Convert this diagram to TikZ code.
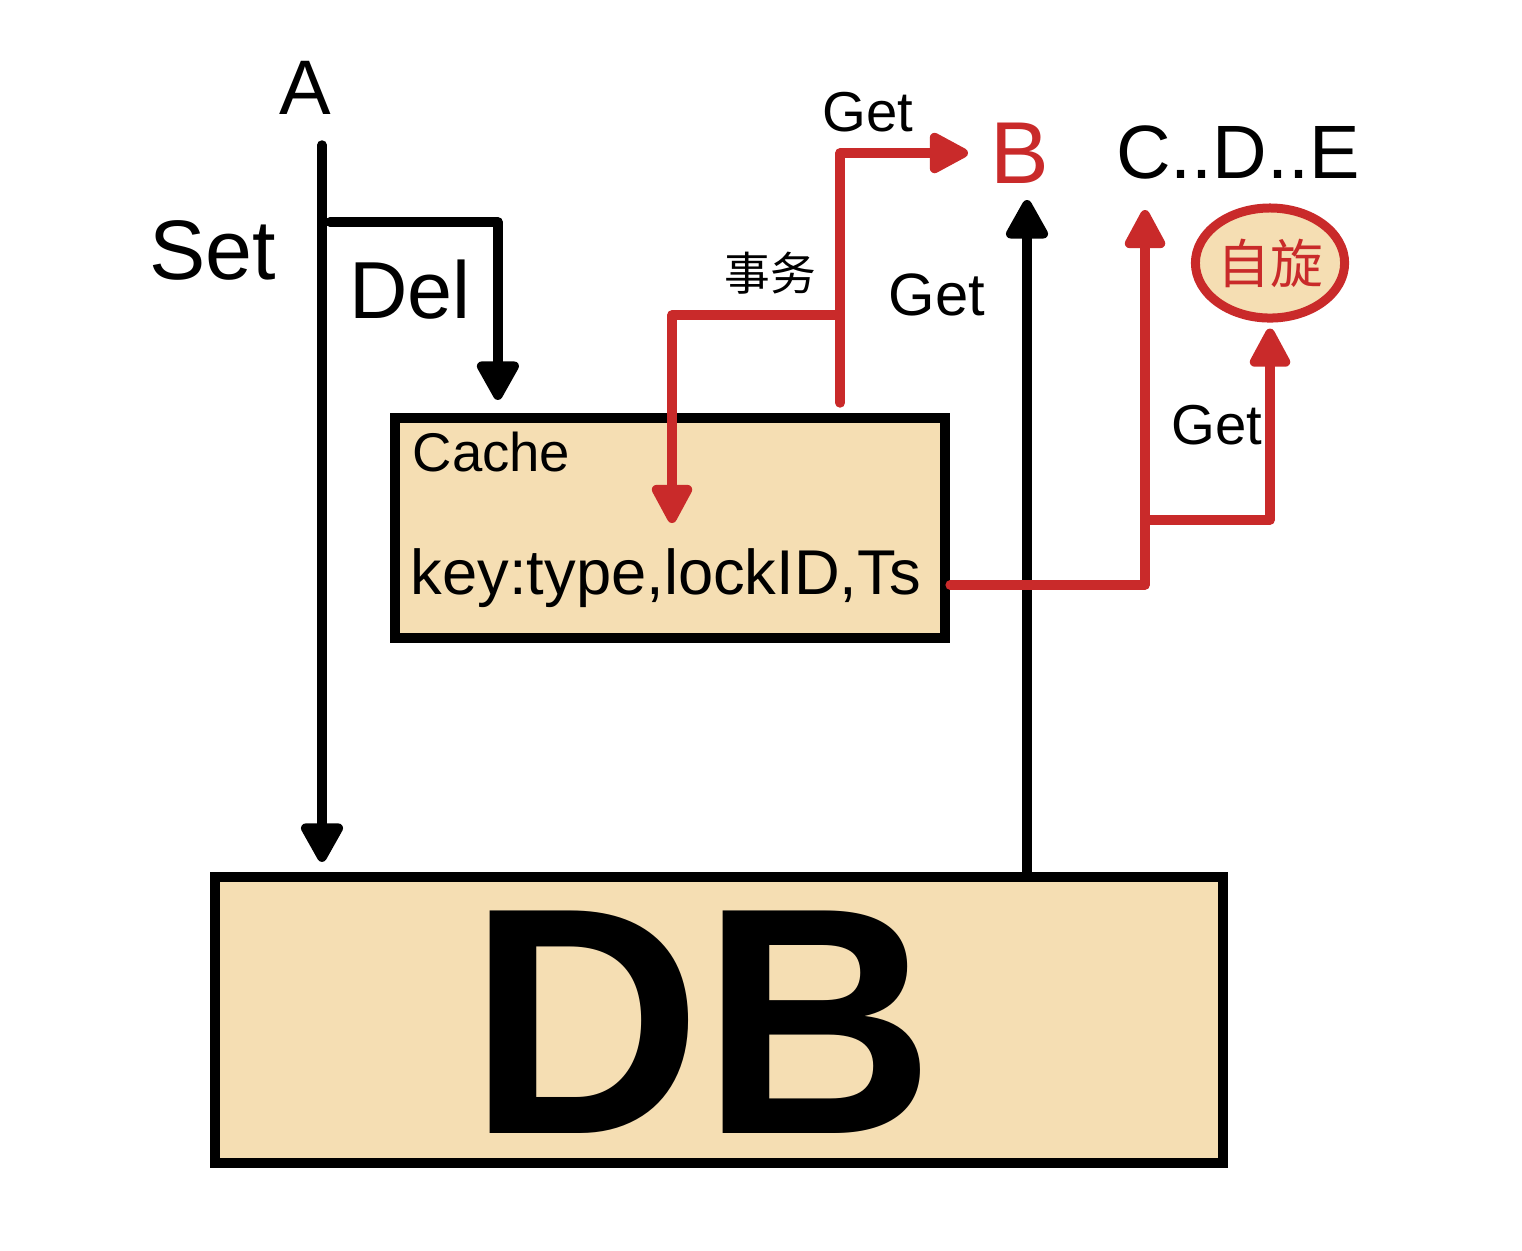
\documentclass[tikz,border=0pt]{standalone}
\usepackage{fontspec}
\setmainfont{Liberation Sans}
\newfontfamily\cjk{Noto Sans CJK SC}
\usetikzlibrary{arrows.meta,positioning,shapes.geometric}
\definecolor{wheat}{HTML}{F5DEB3}
\definecolor{hred}{HTML}{C92A2A}
\begin{document}
\begin{tikzpicture}[x=0.01cm, y=-0.01cm,
    main/.style = {draw=none, inner sep=0pt},
    box/.style = {draw=black, fill=wheat, line width=0.1cm, inner sep=0pt},
    blackline/.style = {draw=black, line width=0.095cm, line cap=round, line join=round,
        -{Triangle[round, width=0.46cm, length=0.44cm]}},
    redline/.style = {draw=hred, line width=0.095cm, line cap=round, line join=round,
        -{Triangle[round, width=0.44cm, length=0.44cm]}}]
    \useasboundingbox (0,0) rectangle (1522,1250);

    \node[box, minimum width=10.08cm, minimum height=2.86cm] (DB) at (719,1020) {};
    \node[main] (dbtext) at (702,1022) {\fontsize{92}{92}\selectfont\bfseries DB};
    \node[box, minimum width=5.5cm, minimum height=2.2cm] (cache) at (670,528) {};
    \node[main, anchor=west] (cachetext) at (412,452) {\fontsize{15.5}{15.5}\selectfont Cache};
    \node[main, anchor=west] (keytext) at (410,578) {\fontsize{18}{18}\selectfont key:type,lockID,Ts};

    \node[main] (A) at (305,88) {\fontsize{22}{22}\selectfont A};
    \node[main] (set) at (213,250) {\fontsize{24}{24}\selectfont Set};
    \node[main] (del) at (410,290) {\fontsize{23}{23}\selectfont Del};
    \node[main, text=hred] (B) at (1020,153) {\fontsize{25}{25}\selectfont B};
    \node[main] (cde) at (1238,152) {\fontsize{21.5}{21.5}\selectfont C..D..E};
    \node[ellipse, draw=hred, fill=wheat, line width=0.09cm, minimum width=1.32cm,
        minimum height=1.1cm, inner sep=0pt, text=hred] (spin) at (1270,263)
        {\cjk\fontsize{15}{15}\selectfont 自旋};

    \node[main] (get1) at (868,112) {\fontsize{16}{16}\selectfont Get};
    \node[main] (get2) at (937,295) {\fontsize{17}{17}\selectfont Get};
    \node[main] (get3) at (1217,425) {\fontsize{16}{16}\selectfont Get};
    \node[main] (tx) at (770,273) {\cjk\fontsize{13}{13}\selectfont 事务};

    \coordinate (setTop) at (322,145);
    \coordinate (delStart) at (330,222);
    \coordinate (txFork) at (840,315);
    \coordinate (txEnd) at (672,523);
    \coordinate (bIn) at (1027,200);
    \coordinate (cdeIn) at (1145,210);
    \coordinate (cdeFork) at (1145,520);

    % black connectors
    \draw[blackline] (setTop) -- ([yshift=0.1cm]setTop |- DB.north);
    \draw[blackline] (delStart) -| ([xshift=-1.72cm, yshift=0.13cm]cache.north);
    \draw[blackline] (bIn |- DB.north) -- (bIn);

    % red connectors
    \draw[redline] ([xshift=1.7cm, yshift=0.1cm]cache.north) |- ([xshift=-0.22cm]B.west);
    \draw[redline] (txFork) -| (txEnd);
    \draw[redline] ([yshift=-0.57cm]cache.east) -| (cdeIn);
    \draw[redline] (cdeFork) -| ([yshift=-0.06cm]spin.south);
\end{tikzpicture}
\end{document}
